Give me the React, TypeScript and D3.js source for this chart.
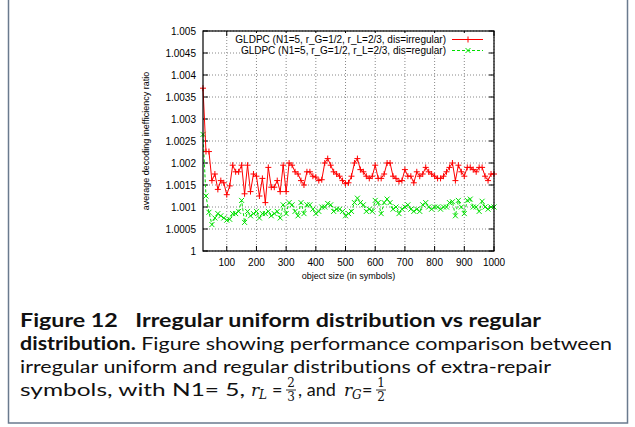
import React from "react";
import * as d3 from "d3";

const xValues: number[] = d3.range(20, 1001, 10);

const irregular: number[] = [
  1.0037, 1.00226, 1.00226, 1.0016, 1.00175, 1.0014, 1.0016, 1.00155, 1.00128, 1.00148,
  1.00195, 1.0018, 1.0018, 1.00195, 1.0013, 1.00195, 1.00135, 1.00175, 1.0017, 1.00125,
  1.00165, 1.0011, 1.0019, 1.00145, 1.00145, 1.0016, 1.00135, 1.00195, 1.00135, 1.002,
  1.00195, 1.0018, 1.00175, 1.0016, 1.0015, 1.0018, 1.0018, 1.0017, 1.00168, 1.0016,
  1.00162, 1.002, 1.0021, 1.00195, 1.0018, 1.00175, 1.0017, 1.0016, 1.00153, 1.00155,
  1.0017, 1.002, 1.0021, 1.00185, 1.0018, 1.0017, 1.00165, 1.0017, 1.00195, 1.00165,
  1.00165, 1.00175, 1.002, 1.002, 1.0017, 1.00165, 1.00158, 1.0016, 1.00185, 1.0017,
  1.0017, 1.00155, 1.0018, 1.0017, 1.00175, 1.0019, 1.0018, 1.00175, 1.0017, 1.00165,
  1.00165, 1.0017, 1.0018, 1.0019, 1.002, 1.0016, 1.00195, 1.0018, 1.0017, 1.0019,
  1.0019, 1.00185, 1.0018, 1.0019, 1.0019, 1.0017, 1.0016, 1.00175, 1.00175,
];

const regular: number[] = [
  1.00265, 1.00125, 1.00088, 1.0006, 1.00075, 1.00085, 1.0008, 1.00075, 1.0007, 1.00072,
  1.00085, 1.00085, 1.0009, 1.00115, 1.00065, 1.0009, 1.0008, 1.00085, 1.0009, 1.00075,
  1.00085, 1.00085, 1.0009, 1.0008, 1.00085, 1.0009, 1.00075, 1.00105, 1.00085, 1.0011,
  1.00105, 1.0009, 1.0008, 1.0011, 1.00085, 1.00105, 1.00105, 1.00095, 1.00085, 1.0009,
  1.001, 1.001, 1.00108, 1.00105, 1.0009, 1.00095, 1.00095, 1.0009, 1.0008, 1.00085,
  1.0009, 1.0011, 1.0012, 1.0011, 1.00105, 1.0009, 1.00095, 1.0009, 1.00115, 1.0011,
  1.00085, 1.0011, 1.00118, 1.0011, 1.00095, 1.001, 1.00085, 1.00095, 1.001, 1.00105,
  1.00095, 1.0009, 1.00095, 1.0009, 1.00105, 1.0011, 1.001, 1.00095, 1.001, 1.001,
  1.00095, 1.001, 1.001, 1.0011, 1.00112, 1.0008, 1.00115, 1.001, 1.00085, 1.00115,
  1.00118, 1.001, 1.001, 1.0009, 1.00113, 1.001, 1.00095, 1.001, 1.001,
];

const xTicks: number[] = [100, 200, 300, 400, 500, 600, 700, 800, 900, 1000];
const yTicks: number[] = [1, 1.0005, 1.001, 1.0015, 1.002, 1.0025, 1.003, 1.0035, 1.004, 1.0045, 1.005];
const yTickLabels: string[] = ["1", "1.0005", "1.001", "1.0015", "1.002", "1.0025", "1.003", "1.0035", "1.004", "1.0045", "1.005"];

const legendLabels: string[] = [
  "GLDPC (N1=5, r_G=1/2, r_L=2/3, dis=irregular)",
  "GLDPC (N1=5, r_G=1/2, r_L=2/3, dis=regular)",
];

const xLabel = "object size (in symbols)";
const yLabel = "average decoding inefficiency ratio";

const L = 203, R = 494, T = 31, B = 251;
const font = "'Liberation Sans', Arial, Helvetica, sans-serif";
const capFont = "Lato, 'Open Sans', sans-serif";

export default function App() {
  const x = d3.scaleLinear().domain([20, 1000]).range([L, R]);
  const y = d3.scaleLinear().domain([1, 1.005]).range([B, T]);
  const lineGen = d3
    .line<number>()
    .x((_, i) => x(xValues[i]))
    .y((d) => y(d));

  const plus = (cx: number, cy: number, s = 3) => `M${cx - s},${cy}H${cx + s}M${cx},${cy - s}V${cy + s}`;
  const cross = (cx: number, cy: number, s = 2.5) =>
    `M${cx - s},${cy - s}L${cx + s},${cy + s}M${cx - s},${cy + s}L${cx + s},${cy - s}`;

  return (
    <svg
      width={635}
      height={427}
      style={{ position: "absolute", left: 0, top: 0, background: "#fff" }}
    >
      <rect x={0} y={0} width={635} height={427} fill="#fff" />
      <rect x={8.5} y={-2} width={619} height={425} fill="none" stroke="#6a7a8e" strokeWidth={1.5} />

      {/* grid */}
      <g stroke="#888" strokeWidth={1} strokeDasharray="1,2">
        {xTicks.map((t) => (
          <line key={"gx" + t} x1={x(t)} x2={x(t)} y1={T} y2={B} />
        ))}
        {yTicks.map((t) => (
          <line key={"gy" + t} x1={L} x2={R} y1={y(t)} y2={y(t)} />
        ))}
      </g>

      {/* ticks */}
      <g stroke="#000" strokeWidth={1}>
        {xTicks.map((t) => (
          <g key={"tx" + t}>
            <line x1={x(t)} x2={x(t)} y1={B} y2={B - 5} />
            <line x1={x(t)} x2={x(t)} y1={T} y2={T + 5} />
          </g>
        ))}
        {yTicks.map((t) => (
          <g key={"ty" + t}>
            <line x1={L} x2={L + 5} y1={y(t)} y2={y(t)} />
            <line x1={R} x2={R - 5} y1={y(t)} y2={y(t)} />
          </g>
        ))}
      </g>

      {/* tick labels */}
      <g fontFamily={font} fontSize={10} fill="#000">
        {xTicks.map((t) => (
          <text key={"lx" + t} x={x(t)} y={B + 15} textAnchor="middle">
            {t}
          </text>
        ))}
        {yTicks.map((t, i) => (
          <text key={"ly" + t} x={L - 7} y={y(t) + 3.5} textAnchor="end">
            {yTickLabels[i]}
          </text>
        ))}
        <text x={(L + R) / 2} y={B + 28} textAnchor="middle" fontSize={9}>
          {xLabel}
        </text>
        <text
          transform={`translate(${L - 54},${(T + B) / 2}) rotate(-90)`}
          textAnchor="middle"
          fontSize={9}
        >
          {yLabel}
        </text>
      </g>

      {/* series */}
      <path d={lineGen(regular) || ""} fill="none" stroke="#00e000" strokeWidth={1} strokeDasharray="3,2" />
      <path
        d={regular.map((v, i) => cross(x(xValues[i]), y(v))).join("")}
        fill="none"
        stroke="#00e000"
        strokeWidth={1}
      />
      <path d={lineGen(irregular) || ""} fill="none" stroke="#ff0000" strokeWidth={1} />
      <path
        d={irregular.map((v, i) => plus(x(xValues[i]), y(v))).join("")}
        fill="none"
        stroke="#ff0000"
        strokeWidth={1}
      />

      {/* frame */}
      <rect x={L} y={T} width={R - L} height={B - T} fill="none" stroke="#000" strokeWidth={1.2} />

      {/* legend */}
      <g fontFamily={font} fontSize={10}>
        <rect x={250} y={33} width={236} height={22} fill="#fff" />
        <text x={446} y={43} textAnchor="end">{legendLabels[0]}</text>
        <line x1={452} x2={483} y1={39.5} y2={39.5} stroke="#ff0000" />
        <path d={plus(468, 39.5)} stroke="#ff0000" />
        <text x={446} y={54} textAnchor="end">{legendLabels[1]}</text>
        <line x1={452} x2={483} y1={50.5} y2={50.5} stroke="#00e000" strokeDasharray="3,2" />
        <path d={cross(468, 50.5)} stroke="#00e000" />
      </g>

      {/* caption */}
      <g fontFamily={capFont} fontSize={18} fill="#111" style={{ fontVariantLigatures: "none" }}>
        <text x={20} y={327} fontWeight="bold" textLength={521} lengthAdjust="spacingAndGlyphs">
          Figure 12{"\u2003"}Irregular uniform distribution vs regular
        </text>
        <text x={20} y={350} textLength={592} lengthAdjust="spacingAndGlyphs">
          <tspan fontWeight="bold">distribution.</tspan> Figure showing performance comparison between
        </text>
        <text x={20} y={373} textLength={531} lengthAdjust="spacingAndGlyphs">
          irregular uniform and regular distributions of extra-repair
        </text>
        <text x={20} y={396} textLength={225} lengthAdjust="spacingAndGlyphs">
          symbols, with N1= 5,
        </text>
        <text x={251} y={396} fontFamily="'DejaVu Serif', serif" fontStyle="italic" fontSize={17}>r</text>
        <text x={259} y={399} fontFamily="'DejaVu Serif', serif" fontStyle="italic" fontSize={12}>L</text>
        <text x={272} y={396}>=</text>
        <text x={291} y={387} fontFamily="'DejaVu Serif', serif" fontSize={12} textAnchor="middle">2</text>
        <line x1={286} x2={296} y1={390} y2={390} stroke="#000" strokeWidth={0.8} />
        <text x={291} y={401} fontFamily="'DejaVu Serif', serif" fontSize={12} textAnchor="middle">3</text>
        <text x={298} y={396}>, and</text>
        <text x={344} y={396} fontFamily="'DejaVu Serif', serif" fontStyle="italic" fontSize={17}>r</text>
        <text x={352} y={399} fontFamily="'DejaVu Serif', serif" fontStyle="italic" fontSize={12}>G</text>
        <text x={362} y={396}>=</text>
        <text x={381} y={387} fontFamily="'DejaVu Serif', serif" fontSize={12} textAnchor="middle">1</text>
        <line x1={376} x2={386} y1={390} y2={390} stroke="#000" strokeWidth={0.8} />
        <text x={381} y={401} fontFamily="'DejaVu Serif', serif" fontSize={12} textAnchor="middle">2</text>
      </g>
    </svg>
  );
}
